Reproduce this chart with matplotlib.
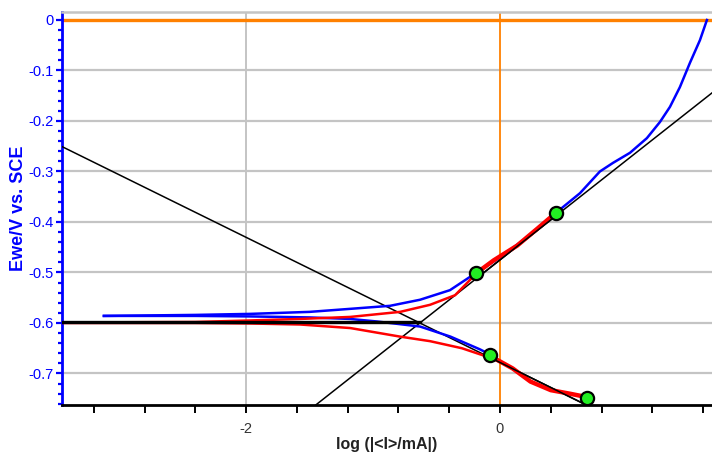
"""Tafel plot: Ewe vs log|I| with fitted Tafel lines."""

import numpy as np
import matplotlib.pyplot as plt
from matplotlib.ticker import MultipleLocator

plt.rcParams['font.family'] = ['Liberation Sans', 'DejaVu Sans']

# measured curve, upper (anodic-going) branch
blue_up_x = [-3.12, -2.4, -1.97, -1.50, -1.18, -0.866, -0.63, -0.394, -0.19,
             0.0, 0.2, 0.44, 0.63, 0.787, 0.89, 1.024, 1.157, 1.26, 1.339,
             1.417, 1.496, 1.575, 1.63]
blue_up_y = [-0.586, -0.584, -0.582, -0.578, -0.572, -0.566, -0.554, -0.535,
             -0.501, -0.470, -0.433, -0.382, -0.343, -0.300, -0.283, -0.263,
             -0.234, -0.202, -0.172, -0.133, -0.085, -0.040, 0.0]
# measured curve, lower branch
blue_lo_x = [-3.12, -2.4, -1.97, -1.5, -1.18, -0.97, -0.63, -0.39, -0.16, -0.08]
blue_lo_y = [-0.586, -0.586, -0.587, -0.589, -0.592, -0.597, -0.607, -0.627, -0.652, -0.662]

# simulated curve (thin) and fit regions (thick)
red_up_x = [-3.45, -2.4, -1.97, -1.575, -1.18, -0.787, -0.551, -0.354, -0.19]
red_up_y = [-0.599, -0.598, -0.595, -0.592, -0.588, -0.578, -0.564, -0.545, -0.503]
red_lo_x = [-3.45, -2.4, -1.97, -1.575, -1.18, -0.787, -0.551, -0.30, -0.134]
red_lo_y = [-0.600, -0.600, -0.601, -0.603, -0.610, -0.627, -0.636, -0.650, -0.664]
fit_a_x = [-0.19, -0.05, 0.134, 0.30, 0.44]
fit_a_y = [-0.502, -0.476, -0.447, -0.412, -0.382]
fit_c_x = [-0.08, 0.10, 0.24, 0.40, 0.55, 0.65]
fit_c_y = [-0.665, -0.690, -0.716, -0.733, -0.740, -0.745]

# fit-range limits
pts_x = [-0.19, 0.44, -0.08, 0.685]
pts_y = [-0.501, -0.382, -0.663, -0.749]

# Tafel parameters
e_corr = -0.600
log_icorr = -0.631
beta_a = 0.198
beta_c = 0.1239

xmin, xmax = -3.45, 1.67
ymin, ymax = -0.7624, 0.0158

fig = plt.figure(figsize=(7.12, 4.55), dpi=100)
ax = fig.add_axes([62 / 712, 50 / 455, 650 / 712, 393 / 455])
ax.set_xlim(xmin, xmax)
ax.set_ylim(ymin, ymax)

# grid
for yv in np.arange(-0.7, 0.0, 0.1):
    ax.axhline(yv, color='#c4c4c4', lw=1.6, zorder=1)
ax.axvline(-2, color='#c4c4c4', lw=1.4, zorder=1)
ax.axhline(0, color='#ff8000', lw=2.4, zorder=2)
ax.axvline(0, color='#ff8000', lw=1.3, zorder=2)

# Tafel lines
xs = np.array([xmin, xmax])
ax.plot(xs, e_corr + beta_a * (xs - log_icorr), color='black', lw=1.1, zorder=3)
ax.plot(xs, e_corr - beta_c * (xs - log_icorr), color='black', lw=1.1, zorder=3)

ax.plot(blue_up_x, blue_up_y, color='#0000ff', lw=1.8, zorder=4)
ax.plot(blue_lo_x, blue_lo_y, color='#0000ff', lw=1.8, zorder=4)
ax.plot(red_up_x, red_up_y, color='#ff0000', lw=1.8, zorder=5)
ax.plot(red_lo_x, red_lo_y, color='#ff0000', lw=1.8, zorder=5)
ax.plot(fit_a_x, fit_a_y, color='#ff0000', lw=3.2, zorder=5)
ax.plot(fit_c_x, fit_c_y, color='#ff0000', lw=3.2, zorder=5)
ax.plot(fit_a_x, [e_corr + beta_a * (v - log_icorr) for v in fit_a_x],
        color='black', lw=1.1, zorder=6)
ax.plot(fit_c_x, [e_corr - beta_c * (v - log_icorr) for v in fit_c_x],
        color='black', lw=1.1, zorder=6)

# Ecorr line
ax.plot([xmin, log_icorr], [e_corr + 0.002, e_corr + 0.002], color='black', lw=2.4, zorder=6)

ax.plot(pts_x, pts_y, 'o', ms=9.5, mfc='#22ee22', mec='black', mew=1.6, zorder=8)

# spines and ticks
ax.spines['right'].set_visible(False)
ax.spines['top'].set_color('#c4c4c4')
ax.spines['top'].set_linewidth(1.8)
ax.spines['left'].set_color('#0000ff')
ax.spines['left'].set_linewidth(2)
ax.spines['bottom'].set_color('black')
ax.spines['bottom'].set_linewidth(2)

ax.yaxis.set_minor_locator(MultipleLocator(0.02))
ax.xaxis.set_minor_locator(MultipleLocator(0.4))
ax.set_yticks(np.arange(-0.7, 0.01, 0.1))
ax.set_yticklabels(['-0.7', '-0.6', '-0.5', '-0.4', '-0.3', '-0.2', '-0.1', '0'])
ax.set_xticks([-2, 0])
ax.set_xticklabels(['-2', '0'])

ax.tick_params(axis='y', which='major', colors='#0000ff', labelcolor='#0000ff',
               length=4.5, width=1.6, labelsize=10.5, pad=1.5)
ax.tick_params(axis='y', which='minor', colors='#0000ff', length=3, width=1.6)
ax.tick_params(axis='x', which='major', colors='black', labelcolor='#333333',
               length=5.8, width=1.4, labelsize=10.5, pad=6.5)
ax.tick_params(axis='x', which='minor', colors='black', length=5.8, width=1.4)

ax.set_xlabel('log (|<I>/mA|)', fontsize=11.5, fontweight='bold', color='#222222', labelpad=1)
ax.set_ylabel('Ewe/V vs. SCE', fontsize=13, fontweight='bold', color='#0000ff', labelpad=1)

fig.savefig('out.png', dpi=100)
